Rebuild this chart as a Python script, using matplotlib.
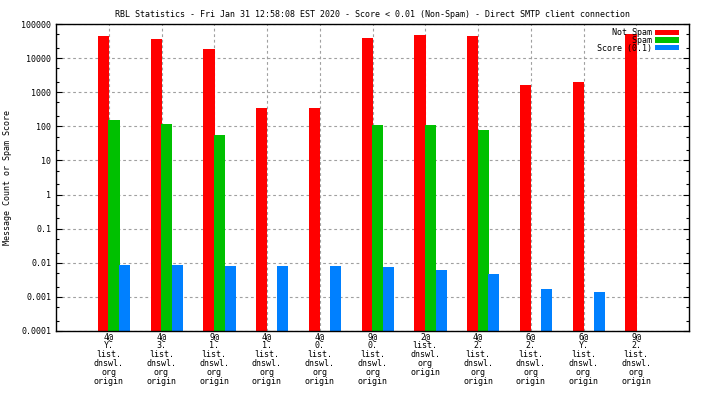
#!/usr/bin/env python
"""RBL statistics bar chart (gnuplot style), log-scale y."""
import numpy as np
import matplotlib
matplotlib.use("Agg")
import matplotlib.pyplot as plt
from matplotlib.ticker import LogLocator, FixedLocator, NullFormatter

plt.rcParams["font.family"] = ["DejaVu Sans Mono"]
plt.rcParams["font.size"] = 6

TITLE = ("RBL Statistics - Fri Jan 31 12:58:08 EST 2020 - Score < 0.01 "
         "(Non-Spam) - Direct SMTP client connection")

CATEGORIES = [
    "4@\nY.\nlist.\ndnswl.\norg\norigin",
    "4@\n3.\nlist.\ndnswl.\norg\norigin",
    "9@\n1.\nlist.\ndnswl.\norg\norigin",
    "4@\n1.\nlist.\ndnswl.\norg\norigin",
    "4@\n0.\nlist.\ndnswl.\norg\norigin",
    "9@\n0.\nlist.\ndnswl.\norg\norigin",
    "2@\nlist.\ndnswl.\norg\norigin",
    "4@\n2.\nlist.\ndnswl.\norg\norigin",
    "6@\n2.\nlist.\ndnswl.\norg\norigin",
    "6@\nY.\nlist.\ndnswl.\norg\norigin",
    "9@\n2.\nlist.\ndnswl.\norg\norigin",
]
# 0 = no bar drawn
NOT_SPAM = [45400, 37000, 18900, 354, 354, 40000, 48600, 45400, 1670, 2040, 52000]
SPAM = [158, 120, 57, 0, 0, 112, 112, 80, 0, 0, 0]
SCORE = [0.0089, 0.0089, 0.0083, 0.0078, 0.0078, 0.0073, 0.0060, 0.0046,
         0.00166, 0.00135, 0]

SERIES = [
    ("   Not Spam", NOT_SPAM, "#ff0000", -0.10),
    ("       Spam", SPAM, "#00c000", 0.10),
    ("Score (0.1)", SCORE, "#0080ff", 0.30),
]
YMIN, YMAX = 1e-4, 1e5

fig = plt.figure(figsize=(7.04, 3.96), dpi=100)
ax = fig.add_axes([56 / 704, 65 / 396, 633 / 704, 307 / 396])

x = np.arange(len(CATEGORIES))
for label, vals, col, off in SERIES:
    v = np.asarray(vals, dtype=float)
    v[v <= 0] = np.nan
    ax.bar(x + off, v - YMIN, bottom=YMIN, width=0.21, color=col,
           label=label, linewidth=0)

ax.set_yscale("log")
ax.set_ylim(YMIN, YMAX)
ax.set_xlim(-1, len(CATEGORIES))

majors = [10.0 ** k for k in range(-4, 6)]
ax.yaxis.set_major_locator(FixedLocator(majors))
ax.set_yticklabels(["0.0001", "0.001", "0.01", "0.1", "1", "10", "100",
                    "1000", "10000", "100000"])
ax.yaxis.set_minor_locator(LogLocator(base=10, subs=(2.0, 5.0), numticks=30))
ax.yaxis.set_minor_formatter(NullFormatter())
ax.set_xticks(x)
ax.set_xticklabels(CATEGORIES, linespacing=1.02, va="top")

ax.tick_params(axis="y", which="major", direction="in", length=4, width=0.8,
               right=True, pad=3.5)
ax.tick_params(axis="y", which="minor", direction="in", length=2.5,
               width=0.8, right=True)
ax.tick_params(axis="x", which="major", length=0, pad=0.5)

ax.grid(True, which="major", color="#a0a0a0", linestyle=(0, (2.5, 2.5)),
        linewidth=0.8)
ax.set_axisbelow(True)
for s in ax.spines.values():
    s.set_linewidth(1.0)
    s.set_color("black")

ax.set_title(TITLE, fontsize=6, pad=5)
ax.set_ylabel("Message Count or Spam Score")
ax.yaxis.set_label_coords(-0.0695, 0.5)

ax.legend(loc="upper right", bbox_to_anchor=(1 - 6 / 633, 1), frameon=False,
          markerfirst=False, fontsize=6, handlelength=2.9, handleheight=0.6,
          labelspacing=-0.15, handletextpad=0.3, borderaxespad=0.3,
          borderpad=0.2)

fig.savefig("out.png", dpi=100)
